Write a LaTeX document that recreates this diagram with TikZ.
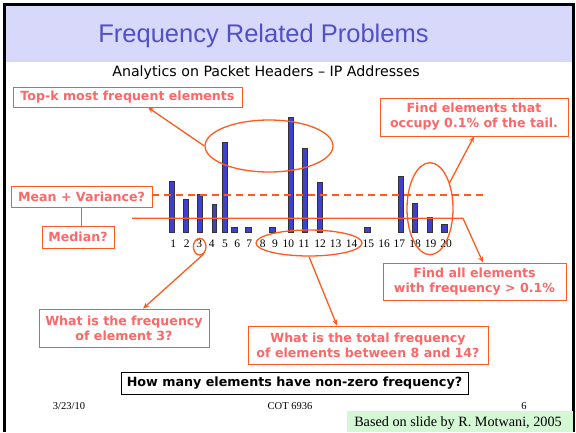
\documentclass[tikz,border=0pt]{standalone}
\usepackage{fontspec}
\setmainfont{Liberation Serif}
\newfontfamily\arialf{Liberation Sans}
\newfontfamily\verd{DejaVu Sans}
\usetikzlibrary{shapes.geometric,arrows.meta,calc}

\definecolor{bandlav}{RGB}{216,216,250}
\definecolor{titleblue}{RGB}{80,80,200}
\definecolor{callline}{RGB}{255,90,30}
\definecolor{calltext}{RGB}{255,102,102}
\definecolor{barblue}{RGB}{64,64,208}
\definecolor{notegreen}{RGB}{212,247,212}

\tikzset{
  callbox/.style={draw=callline, line width=0.9pt, fill=white, text=calltext,
    font=\verd\bfseries\fontsize{12.6}{15}\selectfont, align=center,
    inner sep=0pt, minimum width=#1},
  callbox/.default=10pt,
  ring/.style={draw=callline, line width=1.3pt, ellipse, inner sep=0pt},
  link/.style={draw=callline, line width=1.3pt},
  pointer/.style={link, -{Stealth[length=6pt,width=5pt]}},
  axislab/.style={font=\fontsize{11.5}{12}\selectfont, inner sep=0pt},
  footer/.style={font=\fontsize{10.5}{12}\selectfont, inner sep=0pt},
  bar/.style={fill=barblue, draw=black!80, line width=0.5pt},
}

\begin{document}
\begin{tikzpicture}[x=1pt, y=-1pt]
\useasboundingbox (0,0) rectangle (576,432);

% slide header band and frame
\fill[bandlav] (6,6) rectangle (572,62);
\draw[line width=3pt] (4.5,432) -- (4.5,4.5) -- (573.5,4.5) -- (573.5,432);

\node[text=titleblue, font=\arialf\fontsize{25.5}{28}\selectfont, inner sep=0pt]
  (title) at (263.5,36) {Frequency Related Problems};
\node[font=\verd\fontsize{14.2}{16}\selectfont, inner sep=0pt]
  (subtitle) at (266,73) {Analytics on Packet Headers – IP Addresses};

% frequency histogram
\foreach \cx/\top/\w in {171.7/181/4.7, 186/199/4.7, 200/194/4.7, 214.3/204.3/4.7,
    225/142.7/5, 234.3/227/5.3, 248.3/227/5.3, 272.3/227/5.3, 290.7/117.3/5,
    305/148.3/5, 319.3/182.7/5, 367.3/227/5.3, 400.7/176.7/5, 415/203/5,
    429.3/217.3/5, 444/224.3/6.3}
  \draw[bar] (\cx-\w/2,232) rectangle (\cx+\w/2,\top);

\foreach \n/\lx in {1/173.3, 2/186.7, 3/199.3, 4/211.7, 5/225, 6/237.3, 7/249.3,
    8/262.7, 9/275, 10/288.3, 11/304, 12/320, 13/335.7, 14/351.7, 15/368.3,
    16/384, 17/399.3, 18/415, 19/430.7, 20/446}
  \node[axislab] (lab\n) at (\lx,243.3) {\n};

% highlighted regions
\node[ring, minimum width=128pt, minimum height=52pt] (topkE) at (269,146) {};
\node[ring, minimum width=106pt, minimum height=26pt] (midE) at (309,243) {};
\node[ring, minimum width=12.6pt, minimum height=16.6pt] (threeC) at (199.7,246.7) {};
\node[ring, minimum width=46pt, minimum height=92pt] (tailE) at (430,208.7) {};

% question boxes
\node[callbox=229pt, minimum height=20pt] (topk) at (127.5,97) {Top-k most frequent elements};
\node[callbox=188pt, minimum height=38pt] (findtail) at (474,117)
  {Find elements that\\occupy 0.1\% of the tail.};
\node[callbox=141pt, minimum height=21pt] (mean) at (81.5,196.5) {Mean + Variance?};
\node[callbox=72pt, minimum height=22pt] (median) at (78,237) {Median?};
\node[callbox=170pt, minimum height=38pt] (freq3) at (124,328)
  {What is the frequency\\of element 3?};
\node[callbox=240pt, minimum height=38pt] (total) at (368,345)
  {What is the total frequency\\of elements between 8 and 14?};
\node[callbox=183pt, minimum height=37pt] (findall) at (474.5,281.5)
  {Find all elements\\with frequency > 0.1\%};
\node[draw=black, line width=0.9pt, fill=white, minimum width=347pt, minimum height=22pt,
  inner sep=0pt, font=\verd\bfseries\fontsize{12.7}{14}\selectfont] (howmany) at (294.5,383)
  {How many elements have non-zero frequency?};

% mean and median levels
\coordinate (meanEnd) at (484,195);
\coordinate (medStart) at (132,218.3);
\coordinate (medBend) at (463,218.3);
\draw[link, dash pattern=on 7pt off 5pt] (mean.east |- meanEnd) -- (meanEnd);
\draw[link] (mean.south) -- (mean.south |- median.north);
\draw[pointer] (medStart) -- (medBend) -- ([xshift=8.5pt]findall.north);

% callout arrows
\draw[pointer] (topkE.west) -- ([xshift=20.5pt]topk.south);
\draw[pointer] (tailE.53) -- (findtail.south);
\draw[pointer] (threeC.-60) -- ([xshift=19pt]freq3.north);
\draw[pointer] (midE.south) -- ([xshift=-31pt]total.north);

% footer
\node[footer] (date) at (69,406) {3/23/10};
\node[footer] (course) at (290,406) {COT 6936};
\node[footer] (page) at (524,406) {6};
\fill[notegreen] (347,411) rectangle (573,432);
\node[font=\fontsize{14.2}{15}\selectfont, inner sep=0pt] (credit) at (458,423)
  {Based on slide by R. Motwani, 2005};
\end{tikzpicture}
\end{document}
